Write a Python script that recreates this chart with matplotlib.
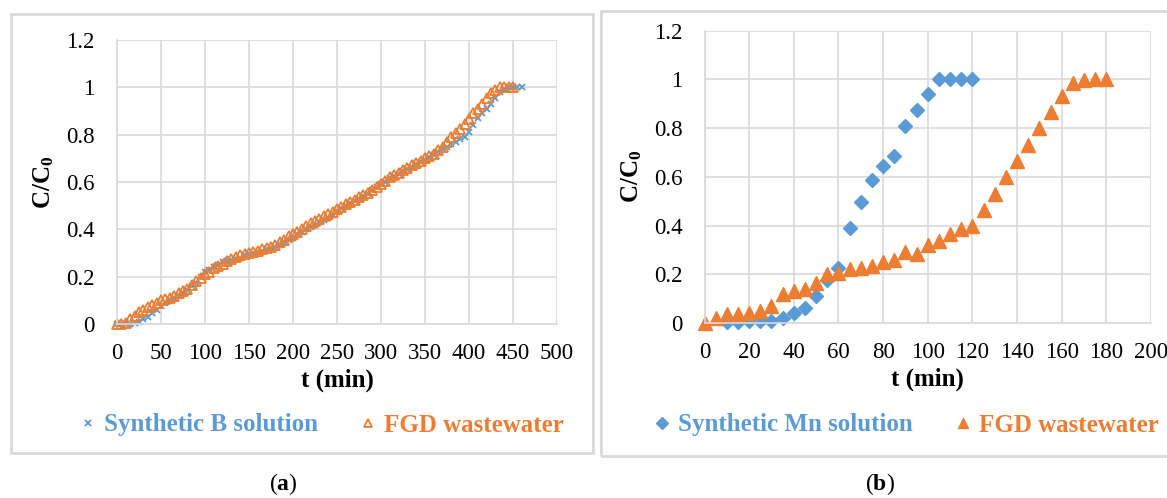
import matplotlib
matplotlib.use('Agg')
import matplotlib.pyplot as plt
from matplotlib.patches import Rectangle

# ---- data: panel (a), boron breakthrough ----
t_b = list(range(0, 461, 5))
c_b = [0, 0, 0, 0, 0.005, 0.01, 0.02, 0.03, 0.045, 0.06,
       0.075, 0.09, 0.10, 0.11, 0.12, 0.13, 0.145, 0.16, 0.175, 0.20,
       0.22, 0.23, 0.24, 0.25, 0.26, 0.265, 0.27, 0.275, 0.28, 0.29,
       0.295, 0.30, 0.305, 0.31, 0.315, 0.32, 0.325, 0.335, 0.345, 0.355,
       0.365, 0.38, 0.39, 0.40, 0.41, 0.42, 0.43, 0.44, 0.45, 0.46,
       0.475, 0.49, 0.50, 0.51, 0.52, 0.53, 0.54, 0.55, 0.565, 0.58,
       0.59, 0.60, 0.615, 0.625, 0.635, 0.645, 0.655, 0.665, 0.675, 0.685,
       0.695, 0.705, 0.715, 0.725, 0.74, 0.75, 0.76, 0.77, 0.78, 0.79,
       0.81, 0.84, 0.87, 0.89, 0.91, 0.93, 0.955, 0.98, 0.995, 1.0,
       1.0, 1.0, 1.0]
t_fgd_a = list(range(0, 451, 5))
c_fgd_a = [0, 0, 0.005, 0.02, 0.035, 0.05, 0.06, 0.07, 0.08, 0.09,
           0.10, 0.105, 0.11, 0.12, 0.13, 0.14, 0.15, 0.165, 0.18, 0.195,
           0.21, 0.22, 0.235, 0.245, 0.255, 0.265, 0.275, 0.285, 0.29, 0.295,
           0.30, 0.305, 0.31, 0.315, 0.32, 0.325, 0.335, 0.345, 0.355, 0.37,
           0.38, 0.39, 0.40, 0.415, 0.425, 0.435, 0.445, 0.455, 0.465, 0.475,
           0.485, 0.495, 0.505, 0.515, 0.525, 0.535, 0.545, 0.555, 0.565, 0.58,
           0.59, 0.605, 0.62, 0.63, 0.64, 0.65, 0.66, 0.67, 0.68, 0.69,
           0.70, 0.71, 0.72, 0.735, 0.75, 0.77, 0.79, 0.805, 0.825, 0.845,
           0.865, 0.89, 0.91, 0.93, 0.955, 0.975, 0.99, 1.0, 1.0, 1.0,
           1.0]

# ---- data: panel (b), manganese breakthrough ----
t_mn = list(range(10, 121, 5))
c_mn = [0.005, 0.005, 0.007, 0.007, 0.01, 0.02, 0.04, 0.06, 0.11, 0.175,
        0.225, 0.39, 0.495, 0.585, 0.645, 0.685, 0.81, 0.875, 0.94, 1.0,
        1.0, 1.0, 1.0]
t_fgd_b = list(range(0, 181, 5))
c_fgd_b = [0, 0.02, 0.035, 0.035, 0.04, 0.05, 0.07, 0.12, 0.13, 0.14,
           0.165, 0.20, 0.205, 0.22, 0.225, 0.235, 0.25, 0.26, 0.29, 0.285,
           0.32, 0.335, 0.365, 0.385, 0.40, 0.465, 0.53, 0.60, 0.665, 0.73,
           0.80, 0.865, 0.93, 0.985, 0.995, 1.0, 1.0]

y_ticks = [0, 0.2, 0.4, 0.6, 0.8, 1, 1.2]
y_ticklabels = ['0', '0.2', '0.4', '0.6', '0.8', '1', '1.2']

BLUE = '#5B9BD5'
ORANGE = '#ED7D31'
GRID = '#D9D9D9'
FONT = 'Liberation Serif'

plt.rcParams['font.family'] = FONT
plt.rcParams['mathtext.fontset'] = 'custom'
plt.rcParams['mathtext.rm'] = FONT
plt.rcParams['mathtext.bf'] = FONT + ':bold'

W, H = 1167, 498
fig = plt.figure(figsize=(W / 100, H / 100), dpi=100)


def fx(px):
    return px / W


def fy(px):
    return 1 - px / H


def style_axes(ax, xmax, xstep):
    ax.set_xlim(0, xmax)
    ax.set_ylim(0, 1.2)
    ax.set_xticks(range(0, xmax + 1, xstep))
    ax.set_yticks(y_ticks)
    ax.set_yticklabels(y_ticklabels)
    ax.grid(True, color=GRID, lw=1.2)
    ax.set_axisbelow(True)
    for s in ['top', 'right']:
        ax.spines[s].set_visible(False)
    for s in ['left', 'bottom']:
        ax.spines[s].set_color(GRID)
        ax.spines[s].set_linewidth(1.2)
    ax.tick_params(length=0, labelsize=16.5, colors='black')
    ax.tick_params(axis='x', pad=14)
    ax.tick_params(axis='y', pad=16)
    ax.set_xlabel('t (min)', fontsize=18, fontweight='bold', labelpad=3)
    ax.set_ylabel(r'$\mathbf{C/C_0}$', fontsize=18, labelpad=7)


# panel (a)
ax1 = fig.add_axes([fx(117), fy(324), fx(557) - fx(117), fy(40) - fy(324)])
style_axes(ax1, 500, 50)
ax1.plot(t_b, c_b, ls='none', marker='x', ms=5, mew=1.3, color=BLUE, clip_on=False,
         label='Synthetic B solution')
ax1.plot(t_fgd_a, c_fgd_a, ls='none', marker='^', ms=7, mew=1.3, mfc='none', mec=ORANGE,
         color=ORANGE, clip_on=False, label='FGD wastewater')

# panel (b)
ax2 = fig.add_axes([fx(704.5), fy(323), fx(1151) - fx(704.5), fy(30.5) - fy(323)])
style_axes(ax2, 200, 20)
ax2.plot(t_mn, c_mn, ls='none', marker='D', ms=7.5, color=BLUE, clip_on=False,
         label='Synthetic Mn solution')
ax2.plot(t_fgd_b, c_fgd_b, ls='none', marker='^', ms=10, color=ORANGE, clip_on=False,
         label='FGD wastewater')

for ax, cx in [(ax1, 322), (ax2, 907)]:
    h, l = ax.get_legend_handles_labels()
    fig.legend(h, l, loc='center', bbox_to_anchor=(fx(cx), fy(425)), ncol=2,
               frameon=False, labelcolor='linecolor', handlelength=0.6,
               handletextpad=0.35, columnspacing=1.7, markerscale=0.75,
               prop={'family': FONT, 'weight': 'bold', 'size': 18})

# panel frames
fig.add_artist(Rectangle((fx(11), fy(453)), fx(593) - fx(11), fy(14) - fy(453),
                         transform=fig.transFigure, fill=False, ec=GRID, lw=2))
fig.add_artist(Rectangle((fx(601), fy(456)), fx(1170) - fx(601), fy(11) - fy(456),
                         transform=fig.transFigure, fill=False, ec=GRID, lw=2))

# captions
fig.text(fx(283), fy(484), r'($\mathbf{a}$)', ha='center', va='center', fontsize=17)
fig.text(fx(880), fy(484), r'($\mathbf{b}$)', ha='center', va='center', fontsize=17)

fig.savefig('out.png', dpi=100, facecolor='white')
